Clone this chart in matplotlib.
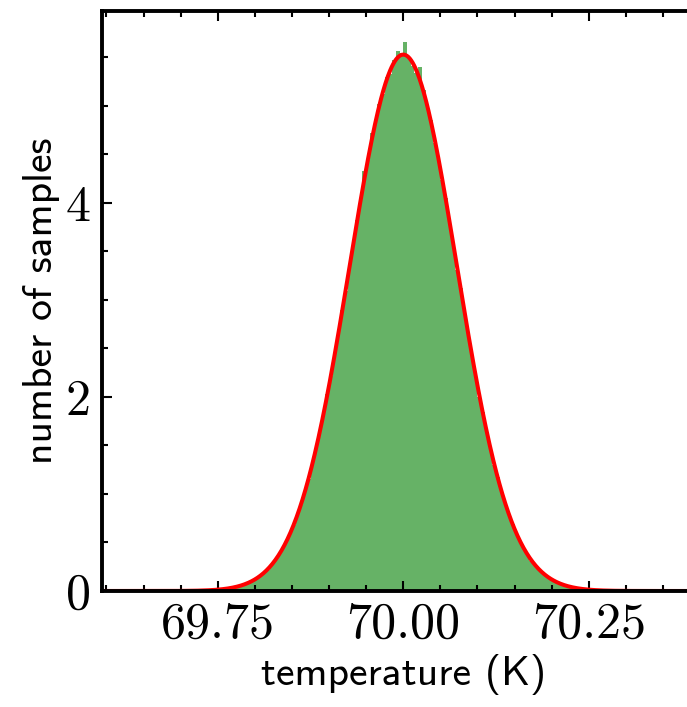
import numpy as np
import matplotlib
matplotlib.use("Agg")
import matplotlib.pyplot as plt
from matplotlib.ticker import MultipleLocator, FormatStrFormatter

# histogram bins (K), 0.005 wide, centred on 70.0
bin_width = 0.005
bin_lo, bin_hi = 69.72, 70.28

# bin heights (density), read outward from the centre on each side
left_heights = [5.54, 5.56, 5.47, 5.33, 5.29, 5.12, 5.02, 4.80, 4.72, 4.44,
                4.33, 4.00, 3.82, 3.55, 3.36, 3.09, 2.89, 2.63, 2.45, 2.21,
                2.03, 1.81, 1.65, 1.46, 1.32, 1.15, 1.03, 0.89, 0.80, 0.68,
                0.60, 0.51, 0.44, 0.37, 0.32, 0.27, 0.22, 0.19, 0.16, 0.13,
                0.11, 0.09, 0.07, 0.06, 0.05, 0.04, 0.03, 0.025, 0.02, 0.015,
                0.012, 0.01, 0.007, 0.006, 0.004, 0.003]
right_heights = [5.66, 5.50, 5.41, 5.34, 5.40, 5.16, 4.97, 4.85, 4.62, 4.47,
                 4.23, 4.05, 3.78, 3.58, 3.31, 3.12, 2.86, 2.66, 2.42, 2.24,
                 2.00, 1.84, 1.63, 1.48, 1.30, 1.17, 1.02, 0.91, 0.78, 0.69,
                 0.59, 0.52, 0.43, 0.38, 0.31, 0.27, 0.23, 0.18, 0.16, 0.13,
                 0.11, 0.09, 0.07, 0.06, 0.05, 0.04, 0.03, 0.025, 0.02, 0.016,
                 0.012, 0.009, 0.008, 0.006, 0.004, 0.003]

# gaussian fit
mu = 70.0
sigma = 0.0722

x_ticks = [69.75, 70.00, 70.25]
y_ticks = [0, 2, 4]

edges = np.arange(len(left_heights) + len(right_heights) + 1) * bin_width + bin_lo
centers = 0.5 * (edges[:-1] + edges[1:])
heights = np.array(left_heights[::-1] + right_heights)

fig = plt.figure(figsize=(6.87, 7.07), dpi=100)
ax = fig.add_axes([0.1485, 0.1641, 0.877, 0.8197])

ax.hist(centers, bins=edges, weights=heights, color="g", alpha=0.6)

xs = np.linspace(69.594, 70.406, 800)
pdf = np.exp(-0.5 * ((xs - mu) / sigma) ** 2) / (sigma * np.sqrt(2 * np.pi))
ax.plot(xs, pdf, color="r", lw=2.9)

ax.set_xlim(69.594, 70.406)
ax.set_ylim(0, 5.97)
ax.set_xticks(x_ticks)
ax.set_yticks(y_ticks)
ax.xaxis.set_minor_locator(MultipleLocator(0.05))
ax.yaxis.set_minor_locator(MultipleLocator(0.5))
ax.xaxis.set_major_formatter(FormatStrFormatter("%.2f"))
ax.yaxis.set_major_formatter(FormatStrFormatter("%d"))

ax.tick_params(which="both", direction="in", top=True, right=True, width=1.5)
ax.tick_params(which="major", length=7.5, labelsize=36, pad=8)
ax.tick_params(which="minor", length=4.5)
for lab in ax.get_xticklabels() + ax.get_yticklabels():
    lab.set_family("cmr10")
for sp in ax.spines.values():
    sp.set_linewidth(2.8)

ax.set_xlabel("temperature (K)", family="cmss10", fontsize=30, labelpad=4)
ax.set_ylabel("number of samples", family="cmss10", fontsize=30, labelpad=4)

fig.savefig("out.png", dpi=100)
